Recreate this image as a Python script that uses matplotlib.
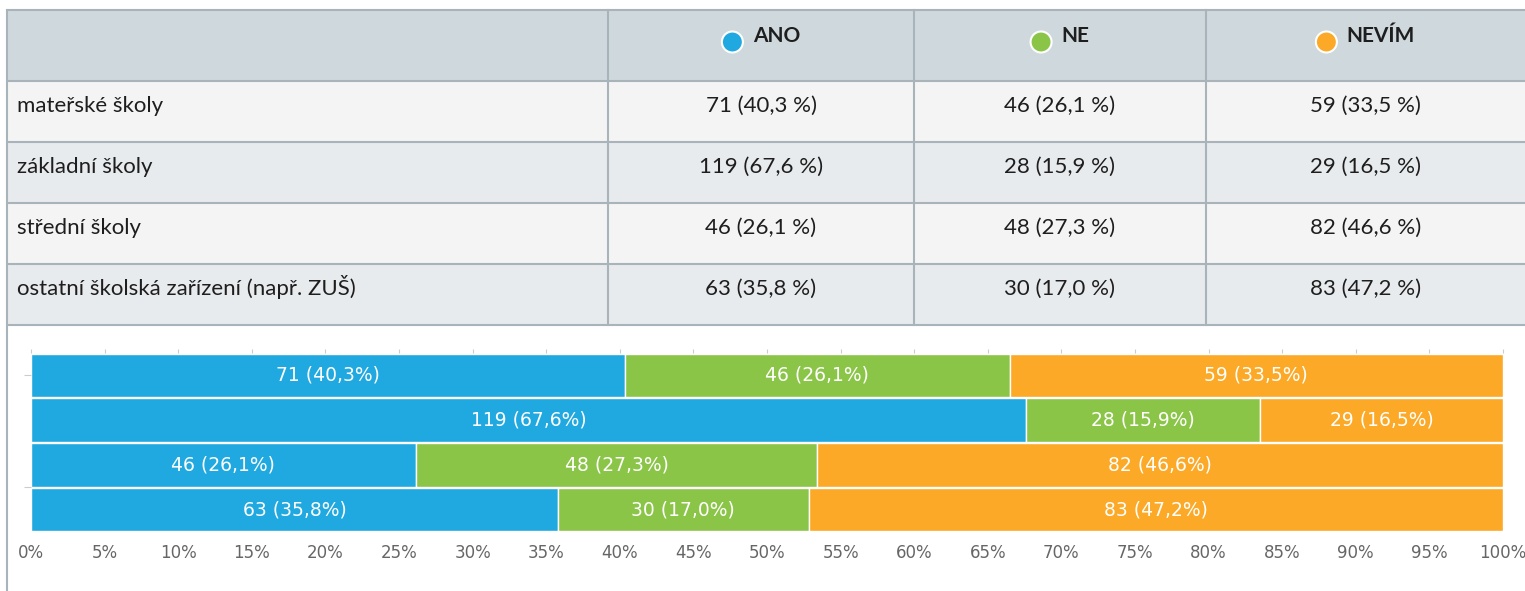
import matplotlib
matplotlib.use("Agg")
import matplotlib.pyplot as plt
from matplotlib.patches import Rectangle, Circle

# Survey answers per school type
categories = ["mateřské školy", "základní školy", "střední školy",
              "ostatní školská zařízení (např. ZUŠ)"]
answers = ["ANO", "NE", "NEVÍM"]
ano = [71, 119, 46, 63]
ne = [46, 28, 48, 30]
nevim = [59, 29, 82, 83]
tick_labels = [f"{v}%" for v in range(0, 101, 5)]

colors = ["#20a9e0", "#8bc548", "#fba926"]
series = [ano, ne, nevim]
totals = [a + b + c for a, b, c in zip(ano, ne, nevim)]
shares = [[v / t * 100 for v, t in zip(s, totals)] for s in series]


def fmt(v, share, space=True):
    pct = f"{share:.1f}".replace(".", ",")
    return f"{v} ({pct}{' ' if space else ''}%)"


W, H = 1525, 591
fig = plt.figure(figsize=(W / 100, H / 100), dpi=100)
fig.patch.set_facecolor("white")

# ---- table drawn in pixel coordinates ----
bg = fig.add_axes([0, 0, 1, 1])
bg.set_xlim(0, W)
bg.set_ylim(H, 0)
bg.axis("off")

col_x = [7, 608, 914, 1206, W]
row_y = [10, 81, 142, 203, 264, 325]
row_fill = ["#cfd8dc", "#f4f4f4", "#e8ebed", "#f4f4f4", "#e8ebed"]
line_c = "#a9b4ba"
table_font = ["Lato", "DejaVu Sans"]
text_c = "#1e1e1e"

for i in range(5):
    bg.add_patch(Rectangle((col_x[0], row_y[i]), W - col_x[0],
                           row_y[i + 1] - row_y[i], facecolor=row_fill[i],
                           edgecolor="none", zorder=1))
for y in row_y:
    bg.plot([col_x[0], W], [y, y], color=line_c, lw=1.5, zorder=2,
            solid_capstyle="butt")
for x in col_x[1:-1]:
    bg.plot([x, x], [row_y[0], row_y[-1]], color=line_c, lw=1.5, zorder=2)
bg.plot([col_x[0], col_x[0]], [row_y[0], H], color=line_c, lw=1.5, zorder=2)

# header legend entries
renderer = fig.canvas.get_renderer()
r = 10.5
gap = 10
for j, name in enumerate(answers):
    cx = (col_x[j + 1] + col_x[j + 2]) / 2
    t = bg.text(0, 42, name, fontsize=15, fontweight="bold", family=table_font,
                color=text_c, ha="left", va="baseline", zorder=4)
    bb = t.get_window_extent(renderer=renderer)
    tw = bb.width
    total_w = 2 * r + gap + tw
    left = cx - total_w / 2
    t.set_x(left + 2 * r + gap)
    bg.add_patch(Circle((left + r, 42), r, facecolor=colors[j],
                        edgecolor="white", lw=1.5, zorder=3))

# body rows
for i, cat in enumerate(categories):
    base = row_y[i + 1] + 31
    bg.text(col_x[0] + 10, base, cat, fontsize=16, family=table_font,
            color=text_c, ha="left", va="baseline", zorder=4)
    for j in range(3):
        cx = (col_x[j + 1] + col_x[j + 2]) / 2
        bg.text(cx, base, fmt(series[j][i], shares[j][i]), fontsize=16,
                family=table_font, color=text_c, ha="center", va="baseline",
                zorder=4)

# ---- stacked 100% bar chart ----
x0, x1, y_top, y_bot = 31, 1503, 353, 532
ax = fig.add_axes([x0 / W, 1 - y_bot / H, (x1 - x0) / W, (y_bot - y_top) / H])
ax.set_xlim(0, 100)
ax.set_ylim(len(categories) - 0.5, -0.5)

ypos = list(range(len(categories)))
left = [0.0] * len(categories)
for j in range(3):
    ax.barh(ypos, shares[j], left=left, height=0.97, color=colors[j],
            edgecolor="white", linewidth=1)
    for i in range(len(categories)):
        ax.text(left[i] + shares[j][i] / 2, i, fmt(series[j][i], shares[j][i], False),
                ha="center", va="center", color="white", fontsize=13.5,
                family="DejaVu Sans")
    left = [l + s for l, s in zip(left, shares[j])]

for s in ax.spines.values():
    s.set_visible(False)
ax.set_xticks(range(0, 101, 5))
ax.set_xticklabels(tick_labels)
ax.tick_params(axis="x", bottom=False, top=True, labelbottom=True,
               labeltop=False, length=3, color="#cccccc", labelcolor="#666666",
               labelsize=12, pad=6)
ax.set_yticks([0, 2.5])
ax.set_yticklabels([])
ax.tick_params(axis="y", length=5, color="#cccccc", pad=2)

fig.savefig("out.png", dpi=100)
